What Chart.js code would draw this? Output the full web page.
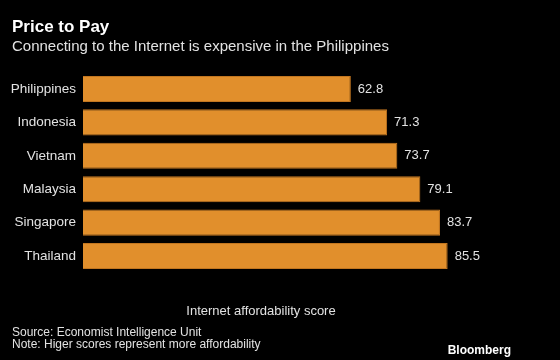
<!DOCTYPE html>
<html lang="en">
<head>
  <meta charset="UTF-8">
  <title>Price to Pay</title>
  <script src="https://cdn.jsdelivr.net/npm/chart.js"></script>
  <style>
    body {
      margin: 0;
      background: #000;
      font-family: 'Liberation Sans', Arial, sans-serif;
      color: #e2e2e2;
    }

    .wrap {
      position: relative;
      width: 560px;
      height: 360px;
      overflow: hidden;
    }

    canvas {
      position: absolute;
      left: 0;
      top: 0;
    }

    .title {
      position: absolute;
      left: 12px;
      top: 17px;
      font-size: 17px;
      font-weight: bold;
      color: #fff;
    }

    .subtitle {
      position: absolute;
      left: 12px;
      top: 37px;
      font-size: 15px;
    }

    .axis-title {
      position: absolute;
      left: 0;
      width: 522px;
      top: 303px;
      text-align: center;
      font-size: 13px;
    }

    .foot {
      position: absolute;
      left: 12px;
      font-size: 12px;
    }

    .logo {
      position: absolute;
      right: 49px;
      top: 343px;
      font-size: 12px;
      font-weight: bold;
      color: #fff;
    }
  </style>
</head>
<body>
  <div class="wrap">
    <canvas id="chart" width="560" height="360"></canvas>
    <div class="title">Price to Pay</div>
    <div class="subtitle">Connecting to the Internet is expensive in the Philippines</div>
    <div class="axis-title">Internet affordability score</div>
    <div class="foot" style="top:325px">Source: Economist Intelligence Unit</div>
    <div class="foot" style="top:337px">Note: Higer scores represent more affordability</div>
    <div class="logo">Bloomberg</div>
  </div>

  <script>
    const countries = ['Philippines', 'Indonesia', 'Vietnam', 'Malaysia', 'Singapore', 'Thailand'];
    const scores = [62.8, 71.3, 73.7, 79.1, 83.7, 85.5];

    // value labels at the end of each bar
    const valueLabels = {
      id: 'valueLabels',
      afterDatasetsDraw(chart) {
        const ctx = chart.ctx;
        const meta = chart.getDatasetMeta(0);
        ctx.save();
        ctx.font = '13px "Liberation Sans", Arial, sans-serif';
        ctx.fillStyle = '#e2e2e2';
        ctx.textBaseline = 'middle';
        meta.data.forEach((bar, i) => {
          ctx.fillText(scores[i].toFixed(1), bar.x + 7, bar.y);
        });
        ctx.restore();
      }
    };

    new Chart(document.getElementById('chart'), {
      type: 'bar',
      data: {
        labels: countries,
        datasets: [{
          data: scores,
          backgroundColor: '#e18f2c',
          borderColor: '#c27620',
          borderWidth: 1,
          barPercentage: 0.78,
          categoryPercentage: 1
        }]
      },
      options: {
        indexAxis: 'y',
        responsive: false,
        animation: false,
        layout: {
          padding: { left: 0, right: 50.5, top: 72.3, bottom: 87.3 }
        },
        plugins: {
          legend: { display: false },
          tooltip: { enabled: false }
        },
        scales: {
          x: {
            display: false,
            min: 0,
            max: 100
          },
          y: {
            grid: { display: false, drawTicks: false },
            border: { display: false },
            afterFit(scale) { scale.width = 83; },
            ticks: {
              padding: 7,
              color: '#e2e2e2',
              font: { family: '"Liberation Sans", Arial, sans-serif', size: 13.5 }
            }
          }
        }
      },
      plugins: [valueLabels]
    });
  </script>
</body>
</html>
